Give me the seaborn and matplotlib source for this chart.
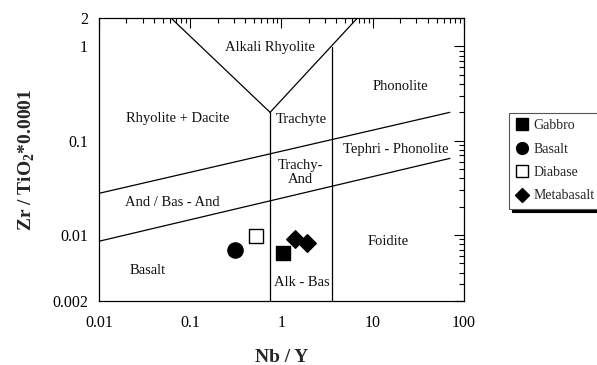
import matplotlib
matplotlib.use("Agg")
import matplotlib.pyplot as plt
from matplotlib.ticker import FixedLocator, NullFormatter, LogLocator
from matplotlib.lines import Line2D
import seaborn as sns
import pandas as pd

sns.set_theme(style="white")
plt.rcParams["font.family"] = ["Liberation Serif", "DejaVu Serif"]
plt.rcParams["mathtext.fontset"] = "custom"
plt.rcParams["mathtext.rm"] = "Liberation Serif"
plt.rcParams["mathtext.bf"] = "Liberation Serif:bold"

# Sample compositions (Nb/Y, Zr/TiO2*0.0001)
rock_types = ["Gabbro", "Basalt", "Diabase", "Metabasalt", "Metabasalt"]
nb_y = [1.04, 0.31, 0.53, 1.41, 1.90]
zr_ti = [0.0064, 0.0069, 0.0097, 0.0091, 0.0082]

# Field boundaries of the classification diagram
boundary_id = ["v_left", "v_left", "v_right", "v_right",
               "vert1", "vert1", "vert2", "vert2",
               "upper", "upper", "lower", "lower"]
boundary_x = [0.0615, 0.75, 0.75, 6.8,
              0.75, 0.75, 3.55, 3.55,
              0.01, 70.0, 0.01, 70.0]
boundary_y = [2.0, 0.2, 0.2, 2.0,
              0.2, 0.002, 0.985, 0.002,
              0.0277, 0.20, 0.0086, 0.065]

# Field names and their positions
field_names = ["Alkali Rhyolite", "Rhyolite + Dacite", "Trachyte", "Phonolite",
               "Trachy-\nAnd", "Tephri - Phonolite", "And / Bas - And",
               "Foidite", "Basalt", "Alk - Bas"]
field_x = [0.75, 0.072, 1.64, 20.0, 1.6, 18.0, 0.063, 14.7, 0.0345, 1.68]
field_y = [0.98, 0.17, 0.167, 0.38, 0.046, 0.0817, 0.0224, 0.0086, 0.00426, 0.00316]

x_ticks = [0.01, 0.1, 1, 10, 100]
x_labels = ["0.01", "0.1", "1", "10", "100"]
y_ticks = [0.002, 0.01, 0.1, 1, 2]
y_labels = ["0.002", "0.01", "0.1", "1", "2"]

styles = {
    "Gabbro": dict(marker="s", facecolor="black", edgecolor="black", s=110),
    "Basalt": dict(marker="o", facecolor="black", edgecolor="black", s=120),
    "Diabase": dict(marker="s", facecolor="white", edgecolor="black", s=110),
    "Metabasalt": dict(marker="D", facecolor="black", edgecolor="black", s=80),
}

fig = plt.figure(figsize=(5.97, 3.65), dpi=100)
ax = fig.add_axes([0.1658, 0.1753, 0.6114, 0.7754])
ax.set_xscale("log")
ax.set_yscale("log")

bounds = pd.DataFrame({"id": boundary_id, "x": boundary_x, "y": boundary_y})
sns.lineplot(data=bounds, x="x", y="y", units="id", estimator=None, sort=False,
             color="black", lw=0.9, ax=ax, legend=False)

samples = pd.DataFrame({"rock": rock_types, "x": nb_y, "y": zr_ti})
for rock, st in styles.items():
    sub = samples[samples["rock"] == rock]
    sns.scatterplot(data=sub, x="x", y="y", marker=st["marker"], s=st["s"],
                    color=st["facecolor"], edgecolor=st["edgecolor"],
                    linewidth=1.0, ax=ax, legend=False, zorder=3)

for name, fx, fy in zip(field_names, field_x, field_y):
    ax.text(fx, fy, name, ha="center", va="center", fontsize=10.5,
            linespacing=1.05, color="#111111")

ax.set_xlim(0.01, 100)
ax.set_ylim(0.002, 2)
ax.xaxis.set_major_locator(FixedLocator(x_ticks))
ax.set_xticklabels(x_labels)
ax.yaxis.set_major_locator(FixedLocator(y_ticks))
ax.set_yticklabels(y_labels)
ax.xaxis.set_minor_locator(LogLocator(base=10, subs=range(2, 10), numticks=20))
ax.yaxis.set_minor_locator(LogLocator(base=10, subs=range(2, 10), numticks=20))
ax.xaxis.set_minor_formatter(NullFormatter())
ax.yaxis.set_minor_formatter(NullFormatter())
ax.tick_params(which="both", direction="in", top=True, right=True,
               colors="black", labelsize=11.5, width=0.8)
ax.tick_params(which="major", length=7)
ax.tick_params(axis="x", which="major", pad=10)
ax.tick_params(axis="y", which="major", pad=8)
ax.tick_params(which="minor", length=3.5)
for sp in ax.spines.values():
    sp.set_color("black")
    sp.set_linewidth(0.9)

ax.set_xlabel("Nb / Y", fontsize=14, fontweight="bold", labelpad=13)
ax.set_ylabel(r"Zr / TiO$_{\mathbf{2}}$*0.0001", fontsize=14,
              fontweight="bold", labelpad=11)

handles = [Line2D([], [], linestyle="none", marker=st["marker"],
                  markerfacecolor=st["facecolor"], markeredgecolor=st["edgecolor"],
                  markersize=8.5 if st["marker"] != "D" else 7.5)
           for st in styles.values()]
leg = fig.legend(handles, list(styles.keys()), loc="upper left",
                 bbox_to_anchor=(509 / 597, 1 - 113 / 365), fontsize=10,
                 frameon=True, fancybox=False, handletextpad=0.3,
                 labelspacing=0.75, borderpad=0.45, handlelength=1.0,
                 borderaxespad=0,
                 shadow={"color": "black", "alpha": 1.0})
leg.get_frame().set_edgecolor("#555555")
leg.get_frame().set_linewidth(0.8)
leg.get_frame().set_facecolor("white")

fig.savefig("out.png", dpi=100)
